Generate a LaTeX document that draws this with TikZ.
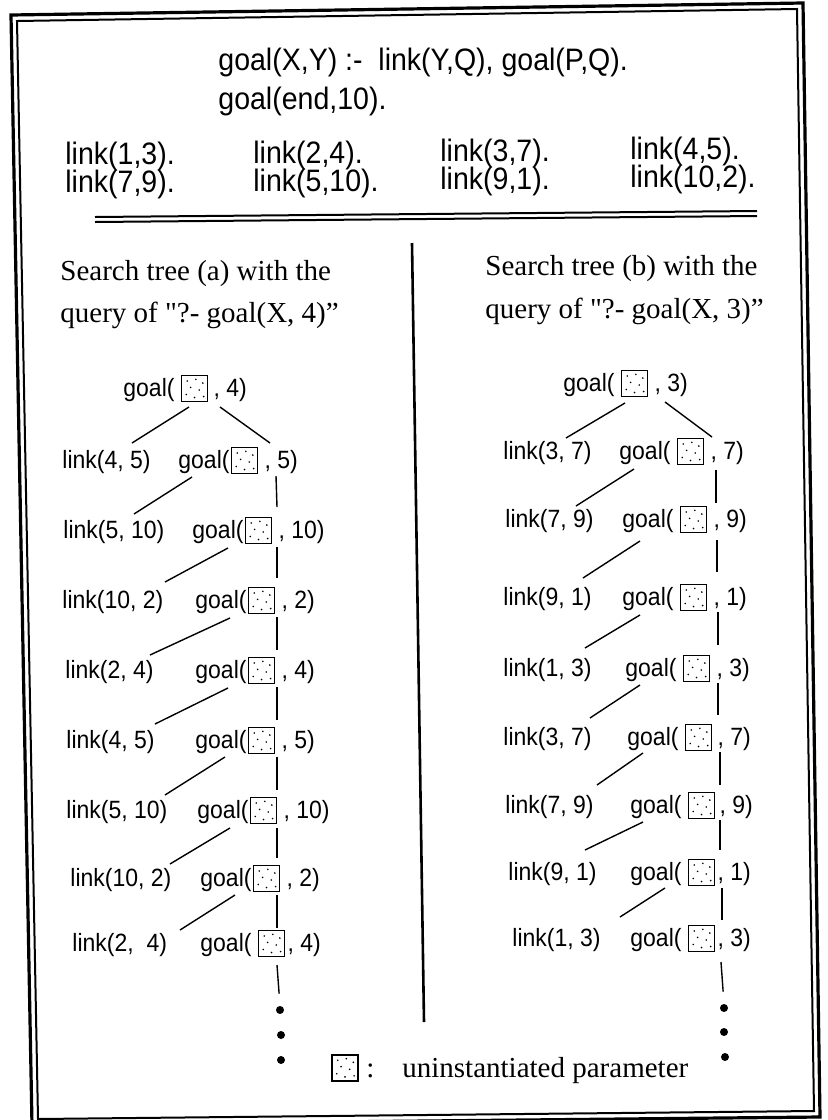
\documentclass[tikz,border=0pt]{standalone}
\usepackage{fontspec}
\setmainfont{Liberation Serif}
\newfontfamily\topfont[FakeStretch=0.92]{Liberation Sans}
\newfontfamily\treefont[FakeStretch=0.92]{Liberation Sans}
\usetikzlibrary{positioning,calc}
\newcommand\sq{{\XeTeXglyph\XeTeXcharglyph"22}}
\newcommand\goalrow[6]{%
  \node[trtxt] (#1g) at (#2,#3) {goal(};
  \node[stipbox, anchor=west] (#1b) at ([xshift=#4, yshift=0.4pt]#1g.east) {};
  \path (#1b.east |- #1g.base) ++(#5,0) node[trtxt] (#1c) {#6};
}
\begin{document}
\begin{tikzpicture}[x=0.5pt,y=-0.5pt,
  toptxt/.style={font=\topfont\fontsize{15.5}{18}\selectfont, anchor=base west, inner sep=0pt},
  trtxt/.style={font=\treefont\fontsize{12.5}{15}\selectfont, anchor=base west, inner sep=0pt},
  captxt/.style={font=\fontsize{14.5}{17}\selectfont, anchor=base west, inner sep=0pt},
  stipbox/.style={draw, line width=0.6pt, minimum size=13pt, inner sep=0pt,
    path picture={\foreach \a/\b in {.22/.2,.55/.14,.82/.28,.35/.45,.68/.55,.18/.72,.5/.84,.85/.8}
      {\fill ([xshift=\a*13pt,yshift=-\b*13pt]path picture bounding box.north west) circle[radius=0.45pt];}}},
  conn/.style={line width=0.7pt},
  dotn/.style={circle, fill, inner sep=0pt, minimum size=4pt},
  frameout/.style={line width=1.6pt},
  framein/.style={line width=1pt},
  rule/.style={line width=1pt}
]
\useasboundingbox (0,0) rectangle (827,1120);
% frame
\draw[frameout] (11,15) -- (803,3) -- (820,1117) -- (32,1125) -- cycle;
\draw[framein] (17,21) -- (797,9) -- (814,1111) -- (38,1119) -- cycle;

% program
\node[toptxt] (r1) at (218,70) {goal(X,Y) :-\ \ link(Y,Q), goal(P,Q).};
\node[toptxt] (r2) at (218,109) {goal(end,10).};
\node[toptxt] (k1) at (65,164) {link(1,3).};
\node[toptxt] (k2) at (253,163) {link(2,4).};
\node[toptxt] (k3) at (440,161) {link(3,7).};
\node[toptxt] (k4) at (630,159) {link(4,5).};
\node[toptxt] (k5) at (65,192) {link(7,9).};
\node[toptxt] (k6) at (253,191) {link(5,10).};
\node[toptxt] (k7) at (440,189) {link(9,1).};
\node[toptxt] (k8) at (630,187) {link(10,2).};
\draw[rule] (95,217) -- (757,211);
\draw[rule] (95,222) -- (757,216);

% divider
\draw[line width=1.3pt] (412,243) -- (424,1022);

% captions
\node[captxt] (ca1) at (60,280) {Search tree (a) with the};
\node[captxt] (ca2) at (60,322) {query of \sq?- goal(X, 4)”};
\node[captxt] (cb1) at (485,275) {Search tree (b) with the};
\node[captxt] (cb2) at (485,318) {query of \sq?- goal(X, 3)”};

% tree (a)
\goalrow{a0}{123}{396}{3pt}{5}{, 4)}
\node[trtxt] (al1) at (62,468) {link(4, 5)};
\goalrow{a1}{178}{468}{0.5pt}{6}{, 5)}
\node[trtxt] (al2) at (63,538) {link(5, 10)};
\goalrow{a2}{192}{538}{0.5pt}{6}{, 10)}
\node[trtxt] (al3) at (62,608) {link(10, 2)};
\goalrow{a3}{195}{608}{0.5pt}{6}{, 2)}
\node[trtxt] (al4) at (65,678) {link(2, 4)};
\goalrow{a4}{195}{678}{0.5pt}{6}{, 4)}
\node[trtxt] (al5) at (66,748) {link(4, 5)};
\goalrow{a5}{195}{748}{0.5pt}{6}{, 5)}
\node[trtxt] (al6) at (66,818) {link(5, 10)};
\goalrow{a6}{197}{818}{0.5pt}{6}{, 10)}
\node[trtxt] (al7) at (70,886) {link(10, 2)};
\goalrow{a7}{200}{886}{0.5pt}{6}{, 2)}
\node[trtxt] (al8) at (72,951) {link(2,\ \ 4)};
\goalrow{a8}{200}{951}{3pt}{2}{, 4)}
\node[dotn] (ad1) at (280,1010) {};
\node[dotn] (ad2) at (281,1035) {};
\node[dotn] (ad3) at (281,1060) {};

\draw[conn] ([shift={(66,11)}]a0g.base west) -- ([shift={(70,-25)}]al1.base west);
\draw[conn] ([shift={(97,11)}]a0g.base west) -- ([shift={(92,-25)}]a1g.base west);
\draw[conn] ([shift={(14,9)}]a1g.base west) -- ([shift={(71,-24)}]al2.base west);
\draw[conn] ([shift={(98,8)}]a1g.base west) -- ([shift={(85,-31)}]a2g.base west);
\draw[conn] ([shift={(36,10)}]a2g.base west) -- ([shift={(103,-26)}]al3.base west);
\draw[conn] ([shift={(85,9)}]a2g.base west) -- ([shift={(82,-30)}]a3g.base west);
\draw[conn] ([shift={(35,10)}]a3g.base west) -- ([shift={(85,-23)}]al4.base west);
\draw[conn] ([shift={(82,9)}]a3g.base west) -- ([shift={(82,-28)}]a4g.base west);
\draw[conn] ([shift={(33,10)}]a4g.base west) -- ([shift={(89,-24)}]al5.base west);
\draw[conn] ([shift={(82,9)}]a4g.base west) -- ([shift={(82,-28)}]a5g.base west);
\draw[conn] ([shift={(30,9)}]a5g.base west) -- ([shift={(99,-23)}]al6.base west);
\draw[conn] ([shift={(82,9)}]a5g.base west) -- ([shift={(80,-28)}]a6g.base west);
\draw[conn] ([shift={(33,10)}]a6g.base west) -- ([shift={(100,-22)}]al7.base west);
\draw[conn] ([shift={(80,10)}]a6g.base west) -- ([shift={(77,-28)}]a7g.base west);
\draw[conn] ([shift={(35,9)}]a7g.base west) -- ([shift={(108,-21)}]al8.base west);
\draw[conn] ([shift={(77,9)}]a7g.base west) -- ([shift={(77,-23)}]a8g.base west);
\draw[conn, shorten >=6pt] ([shift={(77,14)}]a8g.base west) -- (ad1.north);

% tree (b)
\goalrow{b0}{563}{391}{3pt}{6}{, 3)}
\node[trtxt] (bl1) at (503,459) {link(3, 7)};
\goalrow{b1}{619}{459}{3pt}{6}{, 7)}
\node[trtxt] (bl2) at (505,527) {link(7, 9)};
\goalrow{b2}{622}{527}{3pt}{6}{, 9)}
\node[trtxt] (bl3) at (503,605) {link(9, 1)};
\goalrow{b3}{622}{605}{3pt}{6}{, 1)}
\node[trtxt] (bl4) at (503,676) {link(1, 3)};
\goalrow{b4}{625}{676}{3pt}{6}{, 3)}
\node[trtxt] (bl5) at (503,745) {link(3, 7)};
\goalrow{b5}{627}{745}{3pt}{5}{, 7)}
\node[trtxt] (bl6) at (505,813) {link(7, 9)};
\goalrow{b6}{630}{813}{3pt}{4}{, 9)}
\node[trtxt] (bl7) at (508,880) {link(9, 1)};
\goalrow{b7}{630}{880}{3pt}{2}{, 1)}
\node[trtxt] (bl8) at (512,946) {link(1, 3)};
\goalrow{b8}{630}{946}{3pt}{2}{, 3)}
\node[dotn] (bd1) at (724,1008) {};
\node[dotn] (bd2) at (724,1032) {};
\node[dotn] (bd3) at (725,1057) {};

\draw[conn] ([shift={(62,12)}]b0g.base west) -- ([shift={(63,-21)}]bl1.base west);
\draw[conn] ([shift={(102,11)}]b0g.base west) -- ([shift={(93,-22)}]b1g.base west);
\draw[conn] ([shift={(15,10)}]b1g.base west) -- ([shift={(71,-21)}]bl2.base west);
\draw[conn] ([shift={(97,11)}]b1g.base west) -- ([shift={(94,-24)}]b2g.base west);
\draw[conn] ([shift={(18,14)}]b2g.base west) -- ([shift={(80,-27)}]bl3.base west);
\draw[conn] ([shift={(95,13)}]b2g.base west) -- ([shift={(95,-33)}]b3g.base west);
\draw[conn] ([shift={(18,10)}]b3g.base west) -- ([shift={(82,-28)}]bl4.base west);
\draw[conn] ([shift={(96,7)}]b3g.base west) -- ([shift={(93,-31)}]b4g.base west);
\draw[conn] ([shift={(15,9)}]b4g.base west) -- ([shift={(87,-27)}]bl5.base west);
\draw[conn] ([shift={(93,7)}]b4g.base west) -- ([shift={(91,-30)}]b5g.base west);
\draw[conn] ([shift={(16,8)}]b5g.base west) -- ([shift={(92,-28)}]bl6.base west);
\draw[conn] ([shift={(93,7)}]b5g.base west) -- ([shift={(90,-28)}]b6g.base west);
\draw[conn] ([shift={(13,9)}]b6g.base west) -- ([shift={(77,-30)}]bl7.base west);
\draw[conn] ([shift={(90,7)}]b6g.base west) -- ([shift={(90,-30)}]b7g.base west);
\draw[conn] ([shift={(35,8)}]b7g.base west) -- ([shift={(108,-29)}]bl8.base west);
\draw[conn] ([shift={(92,8)}]b7g.base west) -- ([shift={(92,-26)}]b8g.base west);
\draw[conn, shorten >=6pt] ([shift={(91,16)}]b8g.base west) -- (bd1.north);

% legend
\node[stipbox] (lgb) at (345,1068) {};
\node[captxt] (lgc) at (366,1077) {:};
\node[captxt] (lgt) at (402,1077) {uninstantiated parameter};
\end{tikzpicture}
\end{document}
